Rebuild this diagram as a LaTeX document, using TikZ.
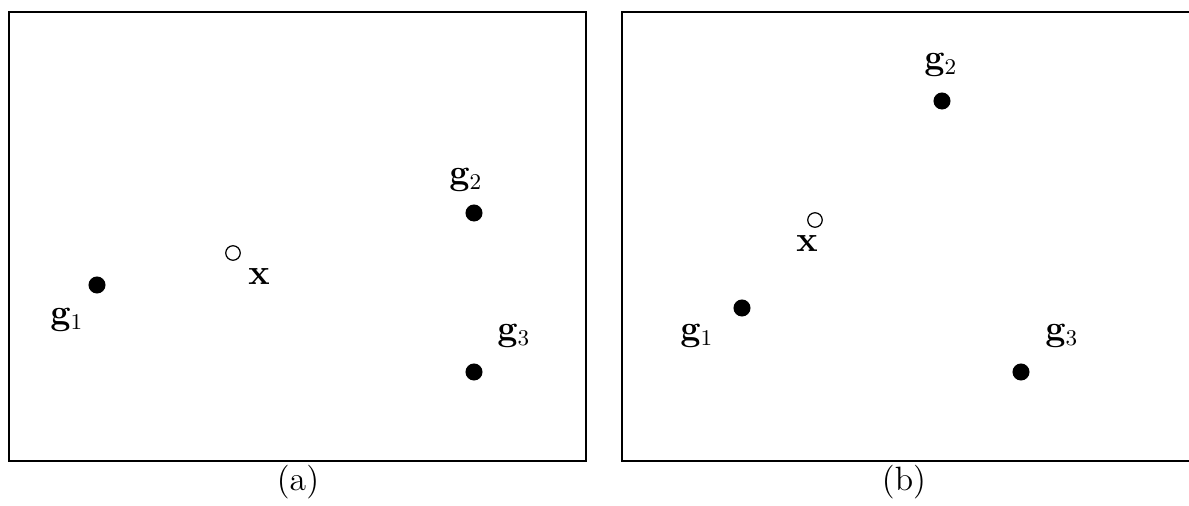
\documentclass[tikz,border=0pt]{standalone}
\begin{document}
\begin{tikzpicture}[x=0.4pt,y=0.4pt,
  panel/.style={draw=black,line width=0.55pt},
  gdot/.style={circle,fill=black,draw=black,inner sep=0pt,minimum size=6.4pt},
  xdot/.style={circle,fill=white,draw=black,line width=0.5pt,inner sep=0pt,minimum size=5.8pt},
  lab/.style={inner sep=0pt,font=\fontsize{13.5}{16}\selectfont}]
\useasboundingbox (0,0) rectangle (1189,506);
% left panel
\draw[panel] (9,45) rectangle (586,494);
\node[gdot] (a1) at (97,221) {};
\node[lab] (la1) at (67,186) {$\mathbf{g}_1$};
\node[xdot] (ax) at (233,253) {};
\node[lab] (lax) at (259,229) {$\mathbf{x}$};
\node[gdot] (a2) at (474,293) {};
\node[lab] (la2) at (466,326) {$\mathbf{g}_2$};
\node[gdot] (a3) at (474,134) {};
\node[lab] (la3) at (514,170) {$\mathbf{g}_3$};
\node[lab] (ca) at (298,24) {(a)};
% right panel
\draw[panel] (1200,45) -- (622,45) -- (622,494) -- (1200,494);
\node[gdot] (b2) at (942,405) {};
\node[lab] (lb2) at (941,441) {$\mathbf{g}_2$};
\node[xdot] (bx) at (815,286) {};
\node[lab] (lbx) at (807,262) {$\mathbf{x}$};
\node[gdot] (b1) at (742,198) {};
\node[lab] (lb1) at (697,170) {$\mathbf{g}_1$};
\node[gdot] (b3) at (1021,134) {};
\node[lab] (lb3) at (1062,170) {$\mathbf{g}_3$};
\node[lab] (cb) at (904,24) {(b)};
\end{tikzpicture}
\end{document}
